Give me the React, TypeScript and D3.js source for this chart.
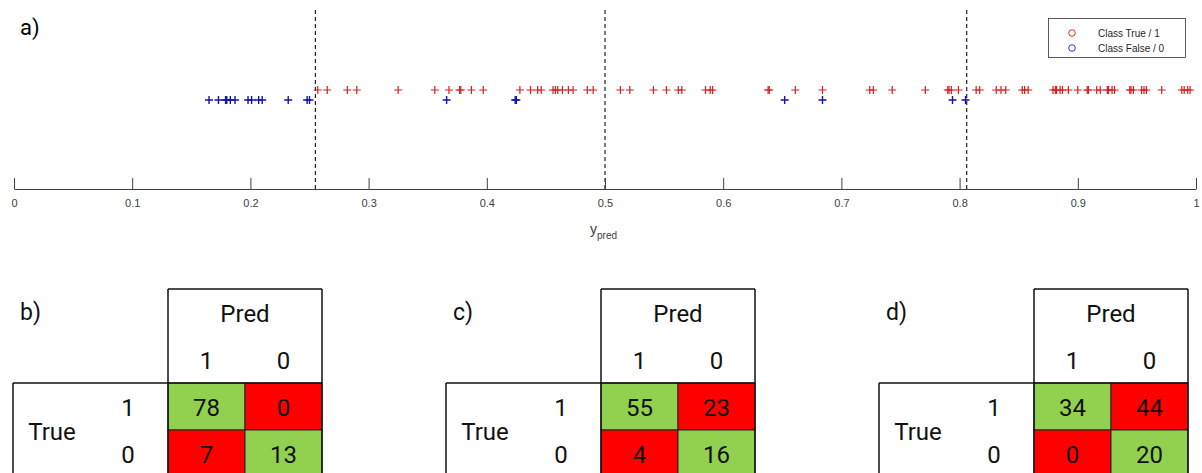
import React, { useEffect, useRef } from 'react';
import * as d3 from 'd3';

const WIDTH = 1202;
const HEIGHT = 473;

// predicted scores of class True / 1
const trueScores = [
  0.257, 0.265, 0.282, 0.29, 0.325, 0.356, 0.368, 0.377, 0.378, 0.387, 0.397, 0.428,
  0.437, 0.443, 0.446, 0.456, 0.458, 0.46, 0.464, 0.469, 0.473, 0.485, 0.49,
  0.513, 0.521, 0.541, 0.552, 0.562, 0.565, 0.585, 0.589, 0.591, 0.638, 0.639,
  0.661, 0.684, 0.724, 0.727, 0.743, 0.771, 0.79, 0.791, 0.793, 0.799,
  0.814, 0.817, 0.831, 0.835, 0.839, 0.853, 0.855, 0.858, 0.879, 0.881, 0.882,
  0.885, 0.887, 0.892, 0.9, 0.908, 0.909, 0.916, 0.919, 0.925, 0.926, 0.929,
  0.931, 0.944, 0.945, 0.947, 0.954, 0.956, 0.958, 0.971, 0.988, 0.99, 0.993, 0.995,
];

// predicted scores of class False / 0
const falseScores = [
  0.165, 0.173, 0.179, 0.18, 0.183, 0.187, 0.198, 0.201, 0.207, 0.21, 0.232, 0.248,
  0.25, 0.366, 0.424, 0.425, 0.652, 0.684, 0.794, 0.805,
];

const thresholds = [0.255, 0.5, 0.806];
const xTicks = [0, 0.1, 0.2, 0.3, 0.4, 0.5, 0.6, 0.7, 0.8, 0.9, 1];
const xTickLabels = ['0', '0.1', '0.2', '0.3', '0.4', '0.5', '0.6', '0.7', '0.8', '0.9', '1'];
const legendLabels = ['Class True / 1', 'Class False / 0'];

// confusion matrices b), c), d)
const panelLabels = ['b)', 'c)', 'd)'];
const truePositives = [78, 55, 34];
const falseNegatives = [0, 23, 44];
const falsePositives = [7, 4, 0];
const trueNegatives = [13, 16, 20];
const classLabels = ['1', '0'];

const RED = '#dd1c1c';
const BLUE = '#1212b0';
const GREEN_CELL = '#92d050';
const RED_CELL = '#ff0000';
const TABLE_FONT = 'Roboto, sans-serif';
const PLOT_FONT = '"Liberation Sans", Arial, sans-serif';

export default function App() {
  const ref = useRef<SVGSVGElement>(null);

  useEffect(() => {
    if (!ref.current) return;
    const svg = d3.select(ref.current);
    svg.selectAll('*').remove();

    const AXIS_Y = 189;
    const x = d3.scaleLinear().domain([0, 1]).range([14, 1196]);

    // panel a)
    svg.append('text')
      .attr('x', 20).attr('y', 35)
      .style('font-family', TABLE_FONT).style('font-size', '22px')
      .text('a)');

    // threshold lines
    svg.selectAll('.thr')
      .data(thresholds)
      .enter()
      .append('line')
      .attr('class', 'thr')
      .attr('x1', (d) => x(d)).attr('x2', (d) => x(d))
      .attr('y1', 10).attr('y2', AXIS_Y)
      .attr('stroke', '#222').attr('stroke-width', 1.2)
      .attr('stroke-dasharray', '4,3');

    // x axis, ticks pointing up
    const xAxis = d3.axisBottom(x)
      .tickValues(xTicks)
      .tickFormat((_, i) => xTickLabels[i])
      .tickSizeInner(-11)
      .tickSizeOuter(0)
      .tickPadding(10);

    const gx = svg.append('g')
      .attr('transform', `translate(0, ${AXIS_Y})`)
      .call(xAxis);
    gx.select('.domain').attr('stroke', '#404040').attr('stroke-width', 1.2);
    gx.selectAll('.tick line').attr('stroke', '#404040');
    gx.selectAll('.tick text')
      .attr('fill', '#404040')
      .style('font-family', PLOT_FONT)
      .style('font-size', '11px');

    const xl = svg.append('text')
      .attr('x', 590).attr('y', 234)
      .attr('fill', '#404040')
      .style('font-family', PLOT_FONT)
      .style('font-size', '14px');
    xl.append('tspan').text('y');
    xl.append('tspan').attr('dy', 5).style('font-size', '10px').text('pred');

    const plus = 'M-4,0H4M0,-4V4';
    svg.selectAll('.pt-true')
      .data(trueScores)
      .enter()
      .append('path')
      .attr('class', 'pt-true')
      .attr('d', plus)
      .attr('transform', (d) => `translate(${x(d)}, 90)`)
      .attr('stroke', RED).attr('stroke-width', 1.2).attr('fill', 'none');

    svg.selectAll('.pt-false')
      .data(falseScores)
      .enter()
      .append('path')
      .attr('class', 'pt-false')
      .attr('d', plus)
      .attr('transform', (d) => `translate(${x(d)}, 100)`)
      .attr('stroke', BLUE).attr('stroke-width', 1.4).attr('fill', 'none');

    // legend
    const lg = svg.append('g');
    lg.append('rect')
      .attr('x', 1048.5).attr('y', 18.5).attr('width', 137).attr('height', 39)
      .attr('fill', 'white').attr('stroke', '#333').attr('stroke-width', 0.8);
    const ly = d3.scalePoint().domain(legendLabels).range([33, 48]);
    const legendColors = ['#e03030', '#3535d0'];
    legendLabels.forEach((lab, i) => {
      lg.append('circle')
        .attr('cx', 1072).attr('cy', ly(lab)!)
        .attr('r', 3.3)
        .attr('fill', 'none').attr('stroke', legendColors[i]).attr('stroke-width', 1);
      lg.append('text')
        .attr('x', 1098).attr('y', ly(lab)!)
        .attr('dy', '0.35em')
        .attr('fill', '#262626')
        .style('font-family', PLOT_FONT).style('font-size', '10px')
        .text(lab);
    });

    // confusion matrices
    const panelX = d3.scalePoint().domain(panelLabels).range([0, 866]);
    const col = d3.scaleBand().domain(classLabels).range([168, 322]);
    const row = d3.scaleBand().domain(classLabels).range([383, 477]);

    panelLabels.forEach((lab, i) => {
      const g = svg.append('g').attr('transform', `translate(${panelX(lab)}, 0)`);
      const cells = [
        { r: '1', c: '1', v: truePositives[i], ok: true },
        { r: '1', c: '0', v: falseNegatives[i], ok: false },
        { r: '0', c: '1', v: falsePositives[i], ok: false },
        { r: '0', c: '0', v: trueNegatives[i], ok: true },
      ];

      g.selectAll('rect.cell')
        .data(cells)
        .enter()
        .append('rect')
        .attr('class', 'cell')
        .attr('x', (d) => col(d.c)!)
        .attr('y', (d) => row(d.r)!)
        .attr('width', col.bandwidth())
        .attr('height', row.bandwidth())
        .attr('fill', (d) => (d.ok ? GREEN_CELL : RED_CELL))
        .attr('stroke', '#222').attr('stroke-width', 1);

      g.selectAll('text.val')
        .data(cells)
        .enter()
        .append('text')
        .attr('class', 'val')
        .attr('x', (d) => col(d.c)! + col.bandwidth() / 2)
        .attr('y', (d) => row(d.r)! + row.bandwidth() / 2 + 1)
        .attr('text-anchor', 'middle')
        .attr('dominant-baseline', 'central')
        .style('font-family', TABLE_FONT).style('font-size', '24px')
        .attr('fill', '#111')
        .text((d) => d.v);

      // frame lines
      const lines = [
        [168, 289, 322, 289],
        [168, 289, 168, 473],
        [322, 289, 322, 473],
        [13, 383, 322, 383],
        [13, 383, 13, 473],
      ];
      g.selectAll('line.frame')
        .data(lines)
        .enter()
        .append('line')
        .attr('class', 'frame')
        .attr('x1', (d) => d[0]).attr('y1', (d) => d[1])
        .attr('x2', (d) => d[2]).attr('y2', (d) => d[3])
        .attr('stroke', '#111').attr('stroke-width', 1.5);

      const txt = (tx: number, ty: number, s: string, size = 24) =>
        g.append('text')
          .attr('x', tx).attr('y', ty)
          .attr('text-anchor', 'middle')
          .attr('dominant-baseline', 'central')
          .style('font-family', TABLE_FONT).style('font-size', `${size}px`)
          .attr('fill', '#111')
          .text(s);

      g.append('text')
        .attr('x', 20).attr('y', 320)
        .style('font-family', TABLE_FONT).style('font-size', '23px')
        .attr('fill', '#111')
        .text(lab);
      txt(245, 314, 'Pred');
      classLabels.forEach((c) => {
        txt(col(c)! + col.bandwidth() / 2, 361, c);
        txt(128, row(c)! + row.bandwidth() / 2 + 1, c);
      });
      txt(52, 432, 'True');
    });
  }, []);

  return (
    <svg
      ref={ref}
      width={WIDTH}
      height={HEIGHT}
      style={{ position: 'absolute', left: 0, top: 0, background: 'white' }}
    />
  );
}
